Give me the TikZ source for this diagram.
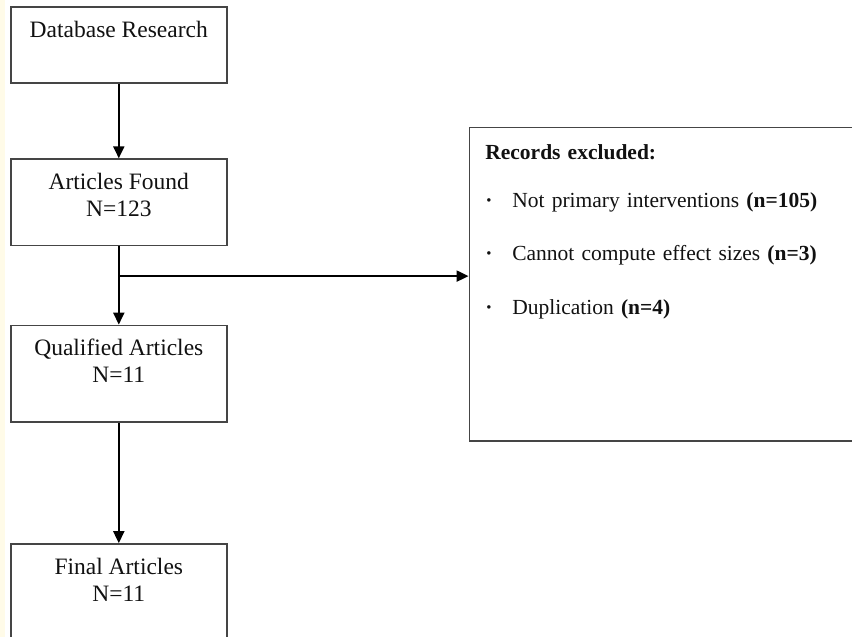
\documentclass[tikz,border=0pt]{standalone}
\usepackage{fontspec}
\setmainfont{Liberation Serif}
\usetikzlibrary{positioning,arrows.meta}
\definecolor{edge}{HTML}{454545}
\definecolor{ink}{HTML}{111111}
\definecolor{margin}{HTML}{FFFBE8}
\newcommand{\padbelow}[1]{\rule[-#1]{0pt}{#1}}
\newcommand{\bul}{\makebox[13.5pt][l]{\textbf{·}}}

\begin{document}
\begin{tikzpicture}[>={Triangle[length=6pt,width=5.5pt]},
  stageblk/.style={draw=edge,line width=0.75pt,text=ink,align=center,minimum width=108pt,inner ysep=7pt,font=\fontsize{11.75}{13.5}\selectfont},
  exclblk/.style={draw=edge,line width=0.75pt,text=ink,align=left,text width=184pt,inner xsep=8pt,inner ysep=8.7pt,font=\fontsize{10.75}{13}\selectfont},
  flow/.style={->,line width=1pt}]
\path[use as bounding box,clip] (0,0) rectangle (426pt,-318.5pt);
\fill[margin] (0,0) rectangle (2.5pt,-318.5pt);
% screening stages
\node[stageblk,anchor=north] (db) at (59.4pt,-3pt) {Database Research\padbelow{16pt}};
\node[stageblk,below=37.25pt of db] (found) {Articles Found\\N=123\padbelow{7.5pt}};
\node[stageblk,below=39.25pt of found] (qual) {Qualified Articles\\N=11\padbelow{12.5pt}};
\node[stageblk,below=60.25pt of qual] (final) {Final Articles\\N=11\padbelow{19.5pt}};
% exclusions
\node[exclblk,anchor=north west] (excl) at (234.3pt,-63.3pt) {\textbf{Records excluded:}\\[11pt]
  \bul Not primary interventions \textbf{(n=105)}\\[13.5pt]
  \bul Cannot compute effect sizes \textbf{(n=3)}\\[14pt]
  \bul Duplication \textbf{(n=4)}\padbelow{54.5pt}};
\draw[flow] (db) -- (found);
\draw[flow] (found) -- (qual);
\coordinate[below=15pt of found.south] (split);
\draw[flow] (split) -- (split -| excl.west);
\draw[flow] (qual) -- (final);
\end{tikzpicture}
\end{document}
